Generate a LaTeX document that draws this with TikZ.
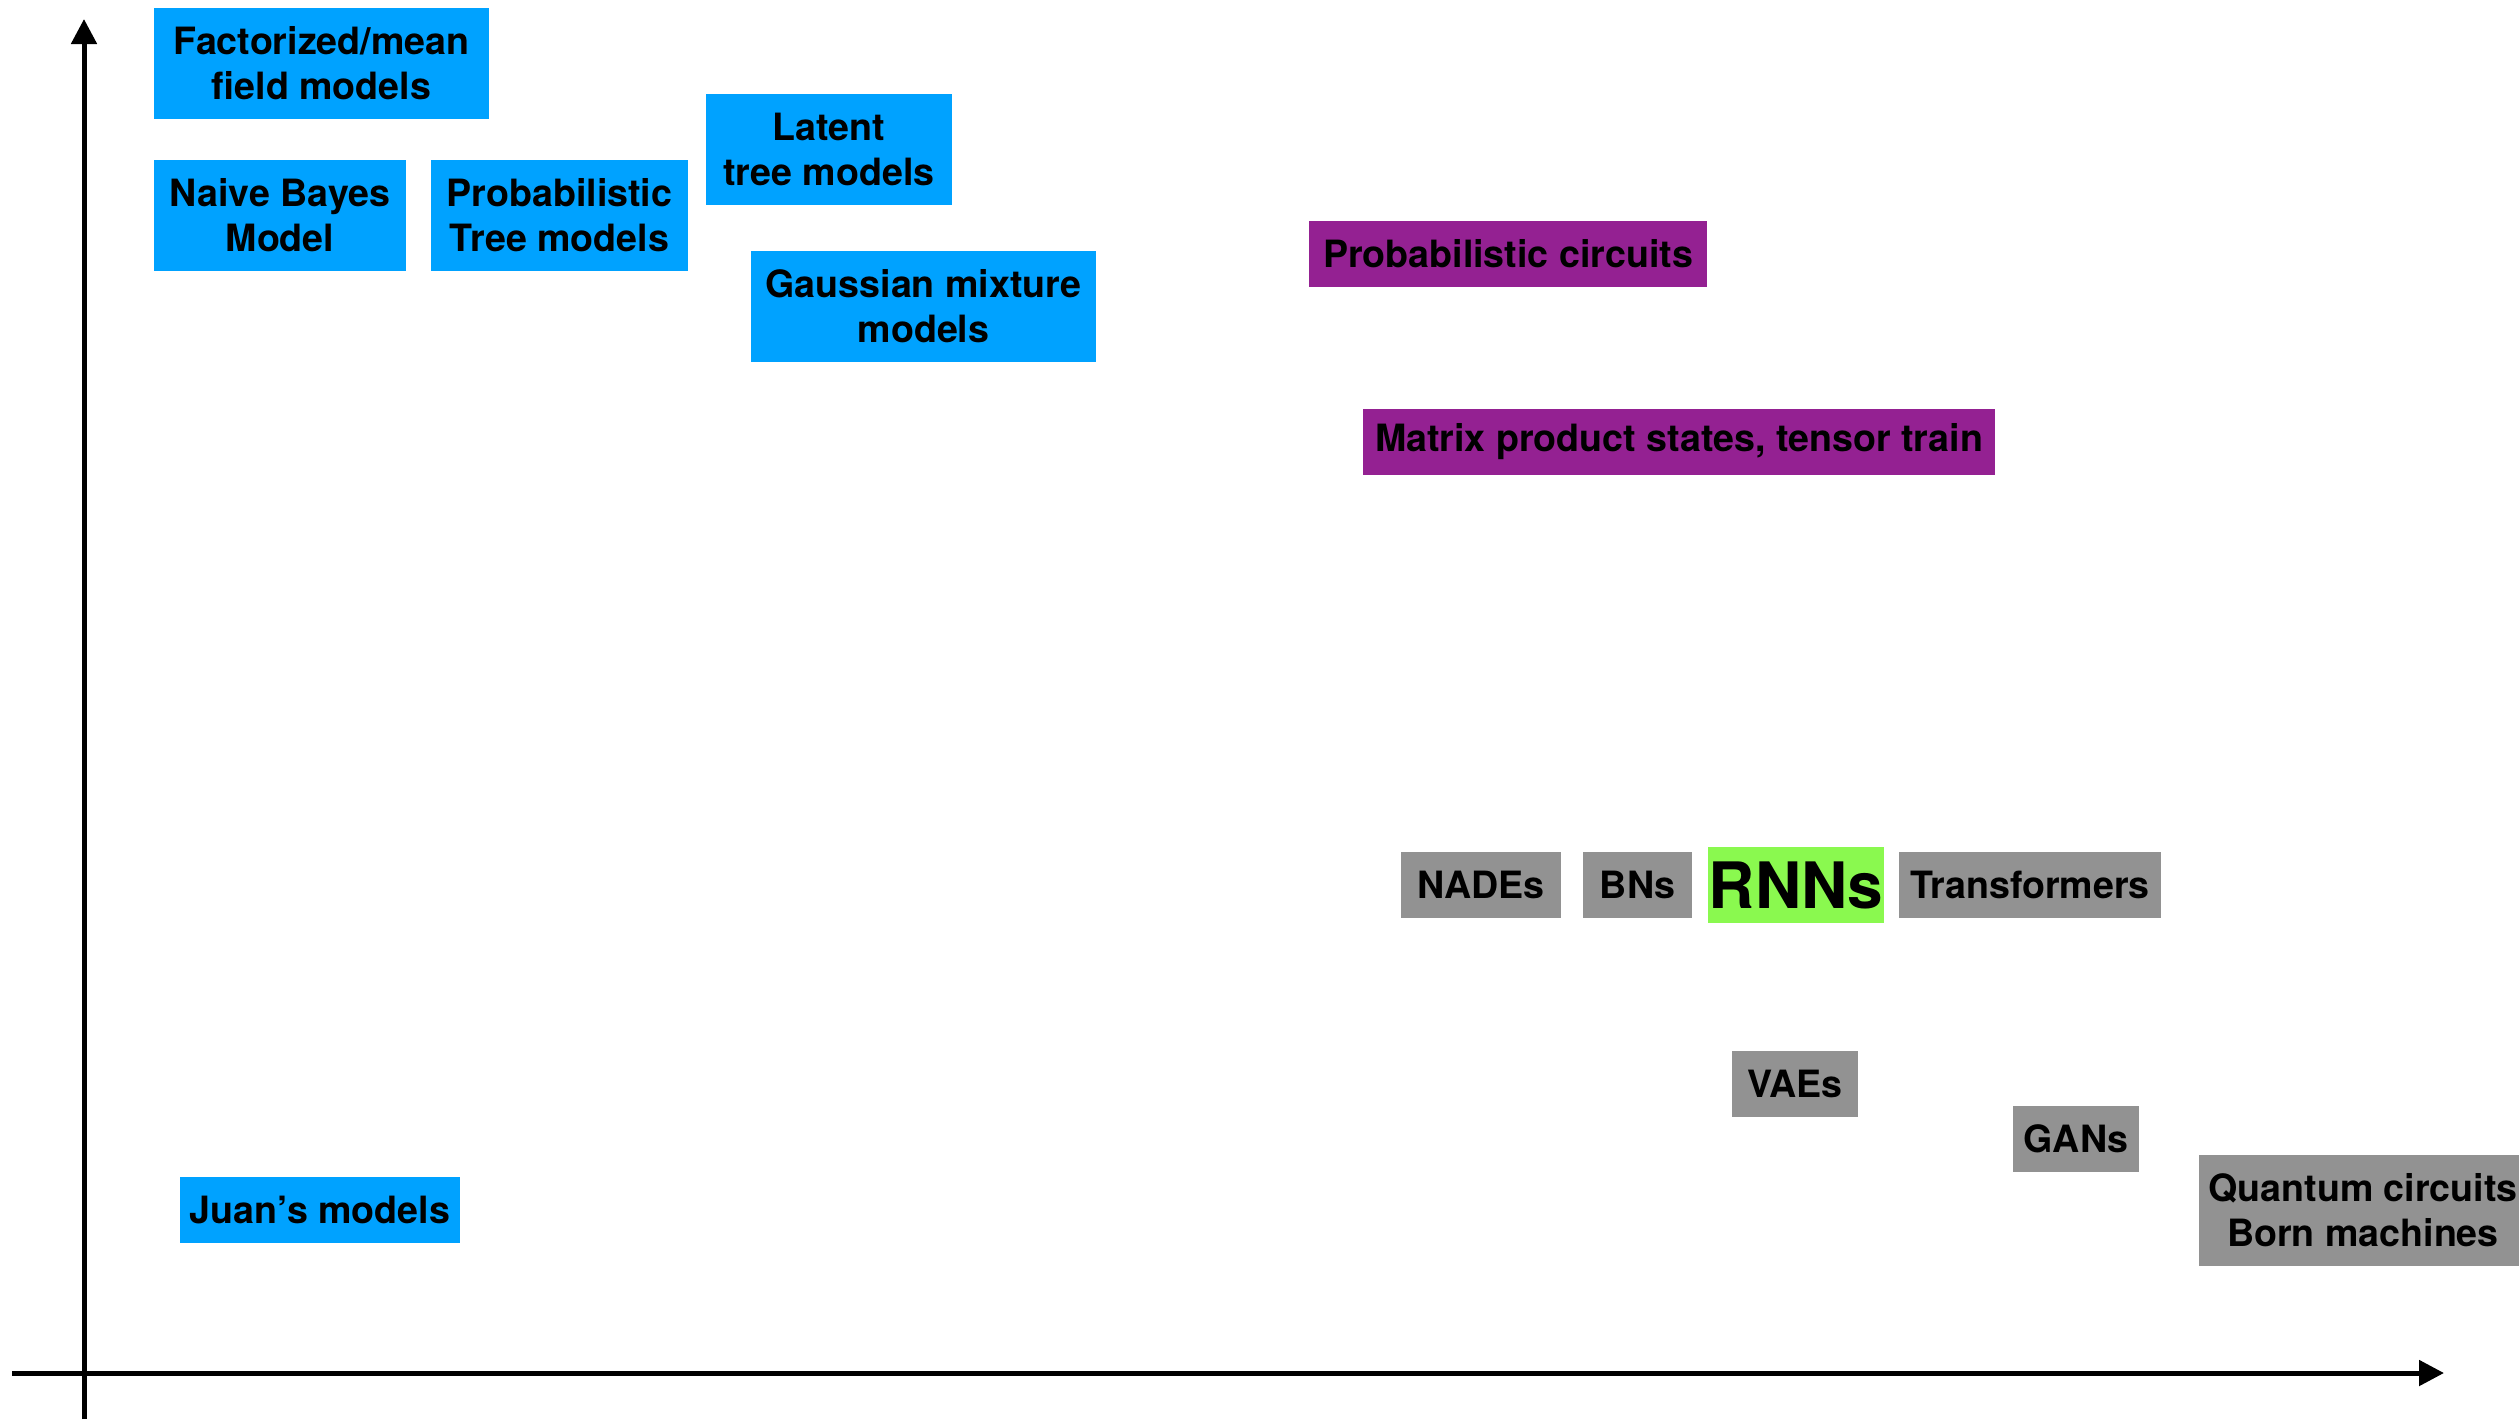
\documentclass[tikz,border=0pt]{standalone}
\usepackage{fontspec}
\setmainfont{TeX Gyre Heros}
\usetikzlibrary{arrows.meta}
\definecolor{boxblue}{HTML}{00A2FF}
\definecolor{boxpurple}{HTML}{942192}
\definecolor{boxgray}{HTML}{929292}
\definecolor{boxgreen}{HTML}{8AF94F}
\tikzset{
  model/.style={rectangle, inner sep=0pt, align=center, text=black,
    font=\fontsize{18.8}{22.5}\selectfont\bfseries},
  bluebox/.style={model, fill=boxblue},
  purplebox/.style={model, fill=boxpurple},
  graybox/.style={model, fill=boxgray},
  sz/.style 2 args={minimum width=#1*0.5pt, minimum height=#2*0.5pt},
  axis/.style={line width=2.5pt, -{Triangle[length=12.5pt,width=12.5pt]}}
}
\begin{document}
\begin{tikzpicture}[x=0.5pt,y=-0.5pt]
\useasboundingbox (0,0) rectangle (2519,1419);

% axes
\coordinate (ybot) at (84,1419);
\coordinate (ytop) at (84,19);
\coordinate (xleft) at (12,1373);
\coordinate (xright) at (2444,1373);
\draw[axis] (ybot) -- (ytop);
\draw[axis] (xleft) -- (xright);

% classical tractable models
\node[bluebox, sz={335}{111}] (fact) at (321.5,63.5) {Factorized/mean\\field models};
\node[bluebox, sz={252}{111}] (nb) at (280,215.5) {Naive Bayes\\Model};
\node[bluebox, sz={257}{111}] (ptree) at (559.5,215.5) {Probabilistic\\Tree models};
\node[bluebox, sz={246}{111}] (latent) at (829,149.5) {Latent\\tree models};
\node[bluebox, sz={345}{111}] (gmm) at (923.5,306.5) {Gaussian mixture\\models};
\node[bluebox, sz={280}{66}] (juan) at (320,1210) {Juan’s models};

% circuits and tensor networks
\node[purplebox, sz={398}{66}] (pc) at (1508,254) {Probabilistic circuits};
\node[purplebox, sz={632}{66}] (mps) at (1679,442) {Matrix product states, tensor train};

% neural and quantum models
\node[graybox, sz={160}{66}] (nade) at (1481,885) {NADEs};
\node[graybox, sz={109}{66}] (bn) at (1637.5,885) {BNs};
\node[model, fill=boxgreen, sz={176}{76}, font=\fontsize{32}{36}\selectfont\bfseries] (rnn) at (1796,885) {RNNs};
\node[graybox, sz={262}{66}] (trans) at (2030,885) {Transformers};
\node[graybox, sz={126}{66}] (vae) at (1795,1084) {VAEs};
\node[graybox, sz={126}{66}] (gan) at (2076,1139) {GANs};
\node[graybox, sz={328}{111}] (qc) at (2363,1210.5) {Quantum circuits\\Born machines};
\end{tikzpicture}
\end{document}
